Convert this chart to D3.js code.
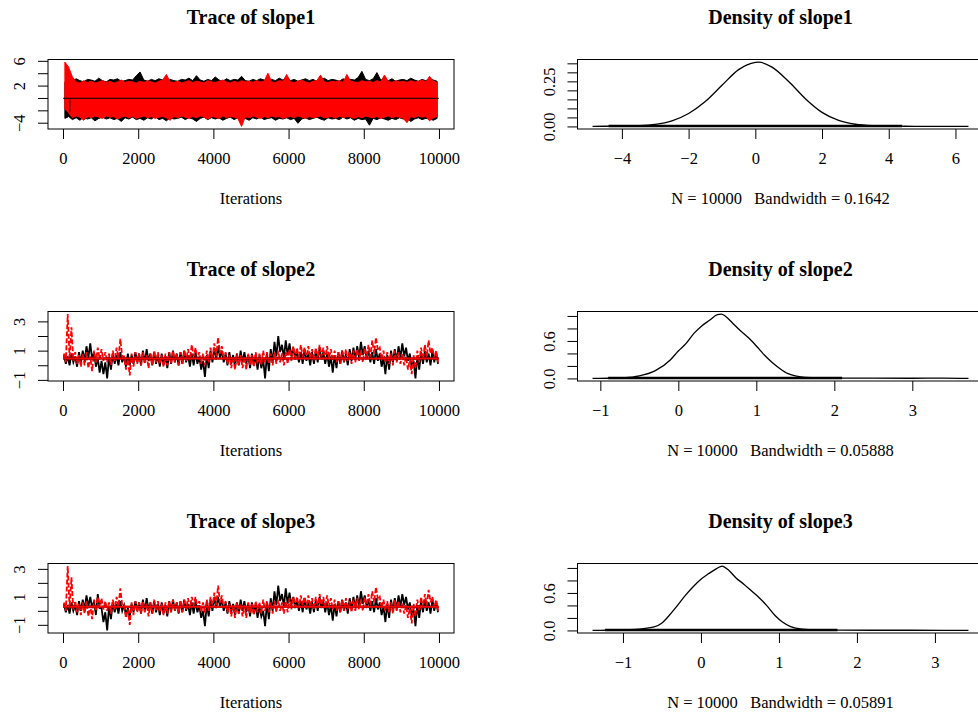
<!DOCTYPE html>
<html>
<head>
<meta charset="utf-8">
<script src="https://cdn.jsdelivr.net/npm/d3@7"></script>
<style>
  body { margin: 0; background: #fff; overflow: hidden; }
  svg { display: block; }
</style>
</head>
<body>
<svg id="chart" width="978" height="713"></svg>
<script>
// coda-style trace / density panels for three slope parameters

const FONT = '"Liberation Serif", "Times New Roman", Times, serif';

// ---- data ----
const params = ['slope1', 'slope2', 'slope3'];
const iterRange = [1, 10000];
const blockSize = 100; // each hi/lo pair is the extent of a 100-iteration block
const traceXTicks = [0, 2000, 4000, 6000, 8000, 10000];

// slope1, chain 1 (black) and chain 2 (red)
const trace1BlackHi = [2.6, 2.9, 2.7, 3.1, 2.8, 2.6, 3.0, 2.9, 2.7, 3.2,
  2.8, 2.6, 3.0, 2.9, 3.1, 2.7, 2.8, 3.0, 2.9, 3.6,
  4.2, 2.9, 2.7, 3.0, 2.8, 3.1, 2.9, 2.6, 3.0, 2.8,
  2.7, 3.0, 2.9, 3.2, 2.8, 3.6, 2.9, 2.7, 3.0, 2.8,
  3.4, 2.9, 2.7, 3.1, 2.8, 3.0, 2.9, 3.5, 2.8, 2.7,
  3.0, 2.8, 3.1, 2.9, 2.7, 3.0, 2.8, 3.2, 2.9, 3.4,
  2.8, 3.0, 2.7, 2.9, 3.1, 2.8, 3.0, 2.7, 2.9, 3.2,
  2.8, 3.0, 2.9, 2.7, 3.1, 2.8, 3.0, 2.9, 3.3, 4.3,
  3.0, 2.8, 3.1, 4.1, 2.9, 3.0, 2.8, 3.1, 2.7, 2.9,
  3.0, 2.8, 3.2, 2.9, 2.7, 3.0, 2.8, 3.1, 2.9, 2.7];
const trace1BlackLo = [-3.3, -3.0, -3.5, -3.2, -3.6, -3.1, -3.4, -3.2, -3.7, -3.3,
  -3.1, -3.4, -3.2, -3.5, -3.3, -3.8, -3.2, -3.4, -3.1, -3.5,
  -3.3, -3.6, -3.2, -3.4, -3.0, -3.5, -3.3, -3.7, -3.2, -3.4,
  -3.3, -3.1, -3.5, -3.2, -3.4, -3.8, -3.3, -3.1, -3.5, -3.2,
  -3.4, -3.2, -3.6, -3.3, -3.1, -3.5, -3.2, -3.4, -3.3, -3.6,
  -3.2, -3.4, -3.1, -3.5, -3.3, -3.2, -3.6, -3.3, -3.4, -3.2,
  -3.5, -3.3, -4.1, -3.4, -3.2, -3.5, -3.3, -3.1, -3.4, -3.6,
  -3.2, -3.4, -3.3, -3.5, -3.1, -3.4, -3.2, -3.6, -3.3, -3.5,
  -3.4, -4.4, -3.3, -3.5, -3.2, -3.4, -3.6, -3.3, -3.5, -3.2,
  -3.4, -3.3, -3.8, -3.4, -3.2, -3.5, -3.3, -3.4, -3.6, -3.3];
const trace1RedHi = [5.8, 5.0, 3.4, 2.6, 2.4, 2.8, 2.5, 2.7, 2.4, 2.6,
  2.8, 2.5, 2.7, 2.4, 2.6, 2.9, 2.5, 2.7, 2.6, 2.4,
  2.7, 2.5, 2.8, 2.6, 2.4, 2.7, 2.9, 3.8, 2.6, 2.5,
  2.7, 2.4, 2.6, 2.8, 2.5, 2.7, 2.6, 2.4, 2.8, 2.6,
  2.5, 2.7, 2.9, 2.6, 2.4, 2.7, 2.5, 2.8, 2.6, 2.7,
  2.5, 2.8, 2.6, 2.7, 4.0, 2.6, 2.5, 2.8, 2.7, 3.8,
  2.6, 2.5, 2.7, 2.9, 2.6, 2.4, 2.7, 2.8, 3.7, 2.6,
  2.5, 2.7, 2.6, 2.8, 2.5, 3.8, 2.7, 2.6, 2.5, 2.8,
  2.6, 2.7, 2.5, 2.8, 2.6, 3.7, 2.7, 2.5, 2.8, 2.6,
  2.7, 2.5, 2.8, 2.6, 2.7, 2.9, 2.6, 3.5, 2.7, 2.5];
const trace1RedLo = [-1.8, -2.4, -3.2, -2.9, -3.1, -3.6, -3.0, -3.2, -2.9, -3.1,
  -3.3, -2.9, -3.1, -3.0, -3.4, -3.1, -2.9, -3.2, -3.0, -3.3,
  -3.1, -2.9, -3.2, -3.0, -3.3, -3.1, -3.0, -3.2, -3.6, -3.0,
  -3.2, -2.9, -3.1, -3.3, -3.0, -3.2, -2.9, -3.1, -3.4, -3.0,
  -3.1, -3.3, -2.9, -3.2, -3.0, -3.1, -3.3, -4.6, -3.0, -3.2,
  -2.9, -3.1, -3.3, -3.0, -3.2, -2.9, -3.1, -3.0, -3.3, -3.1,
  -3.0, -3.2, -2.9, -3.1, -3.3, -3.0, -3.2, -3.1, -2.9, -3.2,
  -3.1, -3.0, -3.3, -2.9, -3.2, -3.0, -3.1, -3.3, -3.0, -3.2,
  -2.9, -3.1, -3.2, -3.0, -3.3, -3.1, -2.9, -3.2, -3.0, -3.1,
  -3.3, -4.0, -3.0, -3.2, -2.9, -3.1, -3.0, -3.7, -3.2, -3.0];

// slope2
const trace2BlackHi = [0.7, 0.6, 0.8, 0.6, 0.9, 1.0, 1.3, 1.5, 0.9, 0.5,
  0.3, 0.2, 0.6, 0.8, 0.7, 0.9, 0.6, 0.8, 0.7, 0.9,
  0.8, 1.0, 1.1, 0.8, 0.9, 0.7, 0.8, 0.6, 0.9, 1.0,
  0.8, 0.9, 1.0, 0.7, 0.8, 0.9, 0.6, 0.3, 0.7, 1.0,
  1.2, 1.3, 1.0, 0.8, 0.9, 0.7, 0.8, 1.0, 0.9, 0.7,
  0.8, 0.6, 0.7, 0.4, 0.8, 1.1, 1.6, 2.0, 1.4, 1.7,
  1.5, 1.2, 1.0, 0.9, 1.1, 0.8, 0.9, 1.0, 1.2, 0.9,
  0.8, 0.6, 0.7, 0.9, 1.0, 0.8, 1.1, 1.2, 1.3, 1.6,
  1.3, 1.0, 0.9, 1.1, 0.8, 0.5, 0.7, 1.0, 1.1, 1.3,
  1.5, 1.2, 0.8, 0.3, 0.6, 0.9, 1.0, 0.8, 1.0, 0.9];
const trace2BlackLo = [0.1, 0.0, 0.2, -0.1, 0.2, 0.3, 0.5, 0.4, -0.1, -0.5,
  -0.6, -0.9, -0.3, 0.1, 0.0, 0.2, -0.1, 0.0, 0.1, 0.2,
  0.0, 0.2, 0.3, 0.0, 0.1, -0.1, 0.0, -0.2, 0.1, 0.2,
  0.0, 0.1, 0.2, -0.1, 0.0, 0.1, -0.3, -0.8, -0.2, 0.2,
  0.4, 0.5, 0.2, 0.0, 0.1, -0.1, 0.0, 0.2, 0.1, -0.2,
  0.0, -0.3, -0.2, -0.9, -0.4, 0.2, 0.6, 0.9, 0.5, 0.7,
  0.6, 0.4, 0.2, 0.1, 0.3, 0.0, 0.1, 0.2, 0.4, 0.1,
  -0.1, -0.5, -0.2, 0.1, 0.2, 0.0, 0.3, 0.4, 0.5, 0.7,
  0.5, 0.2, 0.1, 0.3, -0.1, -0.6, -0.3, 0.2, 0.3, 0.5,
  0.6, 0.3, -0.2, -0.9, -0.3, 0.1, 0.2, 0.0, 0.2, 0.1];
const trace2RedHi = [0.8, 3.5, 2.6, 0.9, 0.7, 0.8, 0.9, 0.6, 1.0, 1.2,
  1.1, 0.9, 0.8, 1.0, 1.2, 1.8, 0.6, 0.4, 0.8, 0.9,
  0.8, 0.9, 0.7, 0.8, 1.0, 0.9, 0.7, 0.8, 0.9, 1.0,
  0.8, 0.9, 1.0, 1.1, 1.4, 1.2, 0.9, 0.8, 1.0, 1.2,
  1.5, 1.9, 1.3, 0.9, 0.7, 0.6, 0.8, 0.7, 0.6, 0.8,
  0.7, 0.9, 0.8, 1.0, 0.9, 0.8, 0.9, 1.0, 0.8, 0.9,
  1.1, 1.3, 1.2, 1.4, 1.2, 1.3, 1.1, 1.2, 1.4, 1.2,
  1.3, 1.1, 1.0, 0.9, 1.0, 1.1, 0.9, 1.0, 1.1, 1.0,
  1.2, 1.4, 1.7, 1.9, 1.2, 1.0, 0.9, 0.8, 1.0, 0.9,
  0.8, 0.6, 0.4, 0.7, 1.0, 1.2, 1.4, 1.7, 1.2, 1.0];
const trace2RedLo = [0.2, 0.4, 0.3, 0.1, -0.1, 0.0, -0.2, -0.4, 0.2, 0.4,
  0.3, 0.2, 0.0, 0.3, 0.5, 0.6, -0.3, -0.7, -0.1, 0.1,
  0.0, 0.1, -0.2, 0.0, 0.2, 0.1, -0.1, 0.0, 0.1, 0.2,
  0.0, 0.1, 0.3, 0.4, 0.6, 0.4, 0.1, 0.0, 0.2, 0.4,
  0.6, 0.8, 0.4, 0.1, -0.2, -0.3, 0.0, -0.2, -0.3, 0.0,
  -0.1, 0.1, 0.0, 0.2, 0.1, 0.0, 0.1, 0.2, 0.0, 0.1,
  0.3, 0.5, 0.4, 0.6, 0.4, 0.5, 0.3, 0.4, 0.6, 0.4,
  0.5, 0.3, 0.2, 0.1, 0.2, 0.3, 0.1, 0.2, 0.3, 0.2,
  0.4, 0.6, 0.8, 1.0, 0.4, 0.2, 0.1, 0.0, 0.2, 0.1,
  0.0, -0.3, -0.6, -0.2, 0.2, 0.4, 0.6, 0.8, 0.4, 0.2];

// slope3
const trace3BlackHi = [0.5, 0.4, 0.6, 0.4, 0.7, 0.8, 1.1, 1.0, 0.7, 1.2,
  0.2, -0.1, 0.3, 0.6, 0.5, 0.7, 0.4, 0.2, 0.5, 0.7,
  0.6, 0.8, 0.9, 0.6, 0.7, 0.5, 0.6, 0.4, 0.7, 0.8,
  0.6, 0.7, 0.8, 0.5, 0.6, 0.7, 0.4, 0.0, 0.5, 0.8,
  1.0, 1.0, 0.8, 0.6, 0.7, 0.5, 0.6, 0.8, 0.7, 0.5,
  0.6, 0.4, 0.3, 0.0, 0.6, 0.9, 1.4, 1.8, 1.2, 1.6,
  1.3, 1.0, 0.8, 0.7, 0.9, 0.6, 0.7, 0.8, 1.0, 0.7,
  0.6, 0.4, 0.5, 0.7, 0.8, 0.6, 0.9, 1.0, 1.1, 1.4,
  1.1, 0.8, 0.7, 0.9, 0.6, 0.3, 0.5, 0.8, 0.9, 1.1,
  1.2, 1.0, 0.6, 0.1, 0.4, 0.7, 0.8, 0.6, 0.8, 0.7];
const trace3BlackLo = [-0.1, -0.2, 0.0, -0.3, 0.0, 0.1, 0.3, 0.2, -0.3, 0.2,
  -0.8, -1.4, -0.6, -0.1, -0.2, 0.0, -0.3, -0.5, -0.1, 0.0,
  -0.2, 0.0, 0.1, -0.2, -0.1, -0.3, -0.2, -0.4, -0.1, 0.0,
  -0.2, -0.1, 0.0, -0.3, -0.2, -0.1, -0.5, -1.1, -0.4, 0.0,
  0.2, 0.3, 0.0, -0.2, -0.1, -0.3, -0.2, 0.0, -0.1, -0.4,
  -0.2, -0.5, -0.4, -1.1, -0.6, 0.0, 0.4, 0.7, 0.3, 0.5,
  0.4, 0.2, 0.0, -0.1, 0.1, -0.2, -0.1, 0.0, 0.2, -0.1,
  -0.3, -0.7, -0.4, -0.1, 0.0, -0.2, 0.1, 0.2, 0.3, 0.5,
  0.3, 0.0, -0.1, 0.1, -0.3, -0.8, -0.5, 0.0, 0.1, 0.3,
  0.4, 0.1, -0.4, -1.1, -0.5, -0.1, 0.0, -0.2, 0.0, -0.1];
const trace3RedHi = [0.6, 3.2, 2.4, 0.7, 0.5, 0.6, 0.7, 0.4, 0.8, 1.0,
  0.9, 0.7, 0.6, 0.8, 1.0, 1.6, 0.4, 0.1, 0.6, 0.7,
  0.6, 0.7, 0.5, 0.6, 0.8, 0.7, 0.5, 0.6, 0.7, 0.8,
  0.6, 0.7, 0.8, 0.9, 1.0, 1.0, 0.7, 0.6, 0.8, 1.0,
  1.3, 1.8, 1.1, 0.7, 0.5, 0.4, 0.6, 0.5, 0.4, 0.6,
  0.5, 0.7, 0.6, 0.8, 0.7, 0.6, 0.7, 0.8, 0.6, 0.7,
  0.9, 1.0, 1.0, 1.1, 1.0, 1.1, 0.9, 1.0, 1.2, 1.0,
  1.1, 0.9, 0.8, 0.7, 0.8, 0.9, 0.7, 0.8, 0.9, 0.8,
  1.0, 1.2, 1.4, 1.7, 1.0, 0.8, 0.7, 0.6, 0.8, 0.7,
  0.6, 0.4, 0.2, 0.5, 0.8, 1.0, 1.2, 1.5, 1.0, 0.8];
const trace3RedLo = [0.0, 0.2, 0.1, -0.1, -0.3, -0.2, -0.4, -0.6, 0.0, 0.2,
  0.1, 0.0, -0.2, 0.1, 0.3, 0.4, -0.5, -1.0, -0.3, -0.1,
  -0.2, -0.1, -0.4, -0.2, 0.0, -0.1, -0.3, -0.2, -0.1, 0.0,
  -0.2, -0.1, 0.1, 0.2, 0.4, 0.2, -0.1, -0.2, 0.0, 0.2,
  0.4, 0.6, 0.2, -0.1, -0.4, -0.5, -0.2, -0.4, -0.5, -0.2,
  -0.3, -0.1, -0.2, 0.0, -0.1, -0.2, -0.1, 0.0, -0.2, -0.1,
  0.1, 0.3, 0.2, 0.4, 0.2, 0.3, 0.1, 0.2, 0.4, 0.2,
  0.3, 0.1, 0.0, -0.1, 0.0, 0.1, -0.1, 0.0, 0.1, 0.0,
  0.2, 0.4, 0.6, 0.8, 0.2, 0.0, -0.1, -0.2, 0.0, -0.1,
  -0.2, -0.5, -0.9, -0.4, 0.0, 0.2, 0.4, 0.6, 0.2, 0.0];

// smooth / mean lines seen across each trace  [iteration, value]
const trace1Smooth = [[1, -0.05], [175, -0.05], [178, -2.2], [181, -0.05], [10000, -0.05]];
const trace2Smooth = [[1, 0.47], [10000, 0.47]];
const trace3Smooth = [[1, 0.3], [10000, 0.3]];

const traceYTicks = [[-4, -2, 0, 2, 4, 6], [-1, 0, 1, 2, 3], [-1, 0, 1, 2, 3]];
const traceYLabels = [[-4, 2, 6], [-1, 1, 3], [-1, 1, 3]];

// densities
const density1X = [-4.88, -4.5, -4, -3.5, -3, -2.5, -2, -1.5, -1, -0.5, 0, 0.1, 0.5, 1, 1.5, 2, 2.5, 3, 3.5, 4, 4.5, 5, 5.5, 6, 6.39];
const density1Y = [0.000, 0.001, 0.002, 0.004, 0.011, 0.031, 0.072, 0.138, 0.228, 0.315, 0.355, 0.357, 0.329, 0.249, 0.154, 0.078, 0.033, 0.012, 0.004, 0.002, 0.001, 0.0005, 0.0003, 0.0002, 0.000];
const density2X = [-1.10, -0.9, -0.7, -0.5, -0.3, -0.1, 0.0, 0.1, 0.2, 0.3, 0.4, 0.5, 0.55, 0.6, 0.7, 0.8, 0.9, 1.0, 1.1, 1.2, 1.3, 1.4, 1.5, 1.6, 1.8, 2.0, 2.5, 3.0, 3.4, 3.72];
const density2Y = [0.000, 0.003, 0.010, 0.040, 0.120, 0.300, 0.440, 0.560, 0.720, 0.840, 0.930, 1.020, 1.030, 1.000, 0.880, 0.760, 0.650, 0.520, 0.380, 0.260, 0.160, 0.080, 0.040, 0.020, 0.010, 0.005, 0.004, 0.003, 0.004, 0.000];
const density3X = [-1.39, -1.2, -1.0, -0.8, -0.6, -0.5, -0.4, -0.3, -0.2, -0.1, 0.0, 0.1, 0.2, 0.27, 0.35, 0.45, 0.55, 0.65, 0.75, 0.85, 0.95, 1.05, 1.15, 1.3, 1.5, 1.8, 2.2, 2.7, 3.1, 3.43];
const density3Y = [0.000, 0.003, 0.008, 0.020, 0.055, 0.120, 0.250, 0.400, 0.560, 0.700, 0.820, 0.910, 0.990, 1.030, 0.970, 0.840, 0.740, 0.630, 0.520, 0.390, 0.240, 0.130, 0.060, 0.020, 0.008, 0.004, 0.003, 0.003, 0.002, 0.000];

// dense part of the observation rug under each density
const rugRanges = [[-4.4, 4.4], [-0.9, 2.1], [-1.23, 1.75]];
const bandwidths = ['0.1642', '0.05888', '0.05891'];
const sampleSize = 10000;

const densXTicks = [[-4, -2, 0, 2, 4, 6], [-1, 0, 1, 2, 3], [-1, 0, 1, 2, 3]];
const densYTicks = [[0, 0.05, 0.1, 0.15, 0.2, 0.25, 0.3, 0.35], [0, 0.2, 0.4, 0.6, 0.8, 1.0], [0, 0.2, 0.4, 0.6, 0.8, 1.0]];
const densYLabels = [[0, 0.25], [0, 0.6], [0, 0.6]];
const densYDigits = [2, 1, 1];

// ---- layout ----
const colLeft = [48, 577.5];
const plotW = 406;
const plotH = 69.5;
const rowTop = i => 59.5 + 252 * i;

const svg = d3.select('#chart');

// R extends axis ranges by 4%
function ext([a, b]) {
  const p = (b - a) * 0.04;
  return [a - p, b + p];
}

function fmtNum(d, digits) {
  const s = digits == null ? String(Math.abs(d)) : Math.abs(d).toFixed(digits);
  return (d < 0 ? '\u2212' : '') + s;
}

function styleAxis(g) {
  g.attr('font-family', FONT).attr('font-size', 16.5);
  g.select('.domain').remove();
}

function bottomAxis(g, x, ticks, yPos, digits) {
  g.append('g')
    .attr('transform', `translate(0,${yPos})`)
    .call(d3.axisBottom(x).tickValues(ticks).tickSize(10).tickFormat(d => fmtNum(d, digits)))
    .call(styleAxis)
    .call(a => a.selectAll('text').attr('y', 35).attr('dy', null));
}

function leftAxis(g, y, ticks, labels, xPos, digits) {
  g.append('g')
    .attr('transform', `translate(${xPos},0)`)
    .call(d3.axisLeft(y).tickValues(ticks).tickSize(10)
      .tickFormat(d => labels.includes(d) ? fmtNum(d, digits) : ''))
    .call(styleAxis)
    .call(a => a.selectAll('text')
      .attr('x', null).attr('dy', null)
      .attr('text-anchor', 'middle')
      .attr('transform', 'translate(-23,0) rotate(-90)'));
}

function frame(g, left, top, title, xlab) {
  g.append('rect')
    .attr('x', left).attr('y', top)
    .attr('width', plotW).attr('height', plotH)
    .attr('fill', 'none').attr('stroke', '#000').attr('stroke-width', 1);

  g.append('text')
    .attr('x', left + plotW / 2).attr('y', top - 35.5)
    .attr('text-anchor', 'middle')
    .style('font-family', FONT).style('font-size', '20px').style('font-weight', 'bold')
    .text(title);

  g.append('text')
    .attr('x', left + plotW / 2).attr('y', top + plotH + 75)
    .attr('text-anchor', 'middle')
    .style('font-family', FONT).style('font-size', '16.5px')
    .style('white-space', 'pre')
    .text(xlab);
}

// zigzag through block extremes: hi then lo within each block
function zigzag(hi, lo) {
  const pts = [];
  hi.forEach((h, k) => {
    pts.push([k * blockSize + blockSize * 0.25, h]);
    pts.push([k * blockSize + blockSize * 0.75, lo[k]]);
  });
  return pts;
}

function drawTrace(i, chains, smooth, solid) {
  const g = svg.append('g');
  const left = colLeft[0], top = rowTop(i);
  const all = chains.flatMap(c => c.hi.concat(c.lo));

  const x = d3.scaleLinear().domain(ext(iterRange)).range([left, left + plotW]);
  const y = d3.scaleLinear().domain(ext(d3.extent(all))).range([top + plotH, top]);
  const line = d3.line().x(d => x(d[0])).y(d => y(d[1]));

  // a white-noise chain overlaps into a solid band; a sticky chain reads as a scribble
  const band = d3.area()
    .x((d, k) => x(k * blockSize + blockSize / 2))
    .y0(d => y(d.lo))
    .y1(d => y(d.hi));

  chains.forEach(c => {
    if (solid) {
      g.append('path')
        .datum(c.hi.map((h, k) => ({ hi: h, lo: c.lo[k] })))
        .attr('d', band)
        .attr('fill', c.color)
        .attr('stroke', c.color)
        .attr('stroke-width', 1);
    } else {
      g.append('path')
        .datum(zigzag(c.hi, c.lo))
        .attr('d', line)
        .attr('fill', 'none')
        .attr('stroke', c.color)
        .attr('stroke-width', 1.8)
        .attr('stroke-dasharray', c.dash);
    }
  });

  smooth.forEach(s => {
    g.append('path')
      .datum(s.pts)
      .attr('d', line)
      .attr('fill', 'none')
      .attr('stroke', s.color)
      .attr('stroke-width', s.width);
  });

  bottomAxis(g, x, traceXTicks, top + plotH, null);
  leftAxis(g, y, traceYTicks[i], traceYLabels[i], left, null);
  frame(g, left, top, `Trace of ${params[i]}`, 'Iterations');
}

function drawDensity(i, xs, ys) {
  const g = svg.append('g');
  const left = colLeft[1], top = rowTop(i);
  const pts = xs.map((v, k) => [v, ys[k]]);
  const yMax = d3.max(ys);

  const x = d3.scaleLinear().domain(ext(d3.extent(xs))).range([left, left + plotW]);
  const y = d3.scaleLinear().domain(ext([0, yMax])).range([top + plotH, top]);

  // observation rug: tiny bars of height max/100, dense enough to read as a band
  const rug = rugRanges[i];
  g.append('line')
    .attr('x1', x(rug[0])).attr('x2', x(rug[1]))
    .attr('y1', y(0) - 0.5).attr('y2', y(0) - 0.5)
    .attr('stroke', '#000').attr('stroke-width', 2.5);

  g.append('path')
    .datum(pts)
    .attr('d', d3.line().x(d => x(d[0])).y(d => y(d[1])).curve(d3.curveMonotoneX))
    .attr('fill', 'none')
    .attr('stroke', '#000')
    .attr('stroke-width', 1.3);

  bottomAxis(g, x, densXTicks[i], top + plotH, null);
  leftAxis(g, y, densYTicks[i], densYLabels[i], left, densYDigits[i]);
  frame(g, left, top, `Density of ${params[i]}`,
    `N = ${sampleSize}   Bandwidth = ${bandwidths[i]}`);
}

const traces = [
  [trace1BlackHi, trace1BlackLo, trace1RedHi, trace1RedLo, trace1Smooth],
  [trace2BlackHi, trace2BlackLo, trace2RedHi, trace2RedLo, trace2Smooth],
  [trace3BlackHi, trace3BlackLo, trace3RedHi, trace3RedLo, trace3Smooth]
];

traces.forEach((t, i) => {
  const chains = [
    { hi: t[0], lo: t[1], color: '#000', dash: null },
    { hi: t[2], lo: t[3], color: '#ff0000', dash: '5,2' }
  ];
  const smooth = i === 0
    ? [{ pts: t[4], color: '#000', width: 1 }]
    : [{ pts: t[4], color: '#000', width: 2 }, { pts: t[4], color: '#ff0000', width: 2 }];
  drawTrace(i, chains, smooth, i === 0);
});

drawDensity(0, density1X, density1Y);
drawDensity(1, density2X, density2Y);
drawDensity(2, density3X, density3Y);
</script>
</body>
</html>
